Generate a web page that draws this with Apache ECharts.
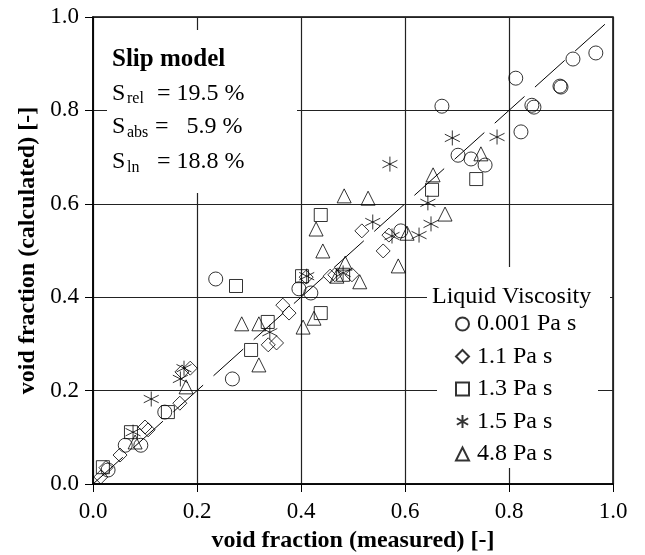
<!DOCTYPE html>
<html>
<head>
<meta charset="utf-8">
<script src="https://cdn.jsdelivr.net/npm/echarts@6/dist/echarts.min.js"></script>
<style>
    html, body { margin: 0; padding: 0; background: #fff; }
    #chart { width: 645px; height: 555px; }
</style>
</head>
<body>
<div id="chart"></div>
<script>
    // measured / calculated void fraction, one list per liquid viscosity
    var visc0001 = [[0.029, 0.030], [0.062, 0.083], [0.092, 0.083], [0.138, 0.154], [0.236, 0.439],
        [0.268, 0.225], [0.396, 0.418], [0.419, 0.409], [0.592, 0.542], [0.671, 0.809],
        [0.702, 0.704], [0.727, 0.696], [0.754, 0.683], [0.813, 0.869], [0.823, 0.754],
        [0.844, 0.811], [0.848, 0.807], [0.898, 0.852], [0.900, 0.850], [0.923, 0.910], [0.967, 0.923]];
    var visc11 = [[0.015, 0.015], [0.025, 0.035], [0.052, 0.062], [0.100, 0.122], [0.106, 0.116],
        [0.167, 0.173], [0.171, 0.240], [0.187, 0.248], [0.337, 0.298], [0.353, 0.302],
        [0.365, 0.383], [0.377, 0.366], [0.410, 0.443], [0.456, 0.445], [0.465, 0.448],
        [0.498, 0.448], [0.517, 0.542], [0.558, 0.499], [0.569, 0.533]];
    var visc13 = [[0.019, 0.036], [0.073, 0.111], [0.144, 0.154], [0.275, 0.424], [0.304, 0.287],
        [0.336, 0.347], [0.402, 0.445], [0.438, 0.366], [0.438, 0.576], [0.481, 0.448],
        [0.652, 0.630], [0.737, 0.653]];
    var visc15 = [[0.077, 0.111], [0.112, 0.182], [0.168, 0.225], [0.175, 0.248], [0.340, 0.325],
        [0.411, 0.445], [0.481, 0.452], [0.538, 0.561], [0.571, 0.685], [0.575, 0.531],
        [0.627, 0.533], [0.644, 0.602], [0.650, 0.557], [0.691, 0.741], [0.777, 0.743]];
    var visc48 = [[0.081, 0.090], [0.179, 0.208], [0.286, 0.343], [0.319, 0.343], [0.319, 0.255],
        [0.404, 0.336], [0.425, 0.355], [0.429, 0.546], [0.442, 0.499], [0.469, 0.445],
        [0.485, 0.473], [0.483, 0.617], [0.513, 0.433], [0.529, 0.612], [0.587, 0.467],
        [0.604, 0.537], [0.654, 0.662], [0.677, 0.578], [0.746, 0.707]];
    var diagonal = [[0, 0], [1, 1]];
    var legendNames = ['0.001 Pa s', '1.1 Pa s', '1.3 Pa s', '1.5 Pa s', '4.8 Pa s'];

    var font = 'Liberation Serif';
    var star = 'path://M5,0L5,10M0.67,2.5L9.33,7.5M0.67,7.5L9.33,2.5';

    function scatter(name, data, symbol, size) {
        return {
            name: name,
            type: 'scatter',
            data: data,
            symbol: symbol,
            symbolSize: size,
            itemStyle: {color: 'rgba(0,0,0,0)', borderColor: '#000', borderWidth: 1},
            emphasis: {disabled: true}
        };
    }

    function label(x, y, text, size, bold) {
        return {
            type: 'text', z: 3, left: x, top: y,
            style: {text: text, font: (bold ? 'bold ' : '') + size + 'px "Liberation Serif"', fill: '#000', verticalAlign: 'middle'}
        };
    }

    var chart = echarts.init(document.getElementById('chart'));
    chart.setOption({
        animation: false,
        grid: {left: 93, right: 32, top: 17, bottom: 71, outerBoundsMode: 'none', containLabel: false,
            show: true, borderColor: '#000', borderWidth: 1.5},
        xAxis: {
            type: 'value', min: 0, max: 1, interval: 0.2,
            name: 'void fraction (measured) [-]',
            nameLocation: 'middle', nameGap: 45,
            nameTextStyle: {fontFamily: font, fontWeight: 'bold', fontSize: 24, color: '#000'},
            axisLine: {show: true, lineStyle: {color: '#000', width: 1.5}},
            axisTick: {show: true, inside: false, length: 8, lineStyle: {color: '#000'}},
            axisLabel: {fontFamily: font, fontSize: 23, color: '#000', margin: 16,
                formatter: function (v) { return v.toFixed(1); }},
            splitLine: {show: true, lineStyle: {color: '#222', width: 1.2}}
        },
        yAxis: {
            type: 'value', min: 0, max: 1, interval: 0.2,
            name: 'void fraction (calculated) [-]',
            nameLocation: 'middle', nameGap: 53,
            nameTextStyle: {fontFamily: font, fontWeight: 'bold', fontSize: 24, color: '#000'},
            axisLine: {show: true, lineStyle: {color: '#000', width: 1.5}},
            axisTick: {show: true, inside: false, length: 8, lineStyle: {color: '#000'}},
            axisLabel: {fontFamily: font, fontSize: 23, color: '#000', margin: 14,
                formatter: function (v) { return v.toFixed(1); }},
            splitLine: {show: true, lineStyle: {color: '#222', width: 1.2}}
        },
        legend: {
            data: legendNames,
            orient: 'vertical',
            left: 455, top: 312,
            padding: 0,
            itemWidth: 13, itemHeight: 13, itemGap: 8.5,
            textStyle: {fontFamily: font, fontSize: 24, color: '#000', padding: [0, 0, 0, 3]},
            selectedMode: false,
            z: 5
        },
        graphic: [
            // white boxes over the grid lines
            {type: 'rect', z: 1, shape: {x: 107, y: 30, width: 190, height: 163}, style: {fill: '#fff'}},
            {type: 'rect', z: 1, shape: {x: 427, y: 267, width: 183, height: 33}, style: {fill: '#fff'}},
            {type: 'rect', z: 1, shape: {x: 437, y: 300, width: 161, height: 168}, style: {fill: '#fff'}},
            label(112, 47, 'Slip model', 25, true),
            label(112, 82, 'S', 24), label(127, 91, 'rel', 16), label(157, 82, '= 19.5 %', 24),
            label(112, 115, 'S', 24), label(127, 125, 'abs', 16), label(155, 115, '=   5.9 %', 24),
            label(112, 150, 'S', 24), label(127, 160, 'ln', 16), label(157, 150, '= 18.8 %', 24),
            label(432, 285, 'Liquid Viscosity', 24)
        ],
        series: [
            {
                type: 'line', data: diagonal, symbol: 'none', silent: true,
                lineStyle: {color: '#000', width: 1, type: [40, 14]}
            },
            scatter(legendNames[0], visc0001, 'circle', 14),
            scatter(legendNames[1], visc11, 'diamond', 14),
            scatter(legendNames[2], visc13, 'rect', 13),
            scatter(legendNames[3], visc15, star, 15),
            scatter(legendNames[4], visc48, 'triangle', 14)
        ]
    });
</script>
</body>
</html>
